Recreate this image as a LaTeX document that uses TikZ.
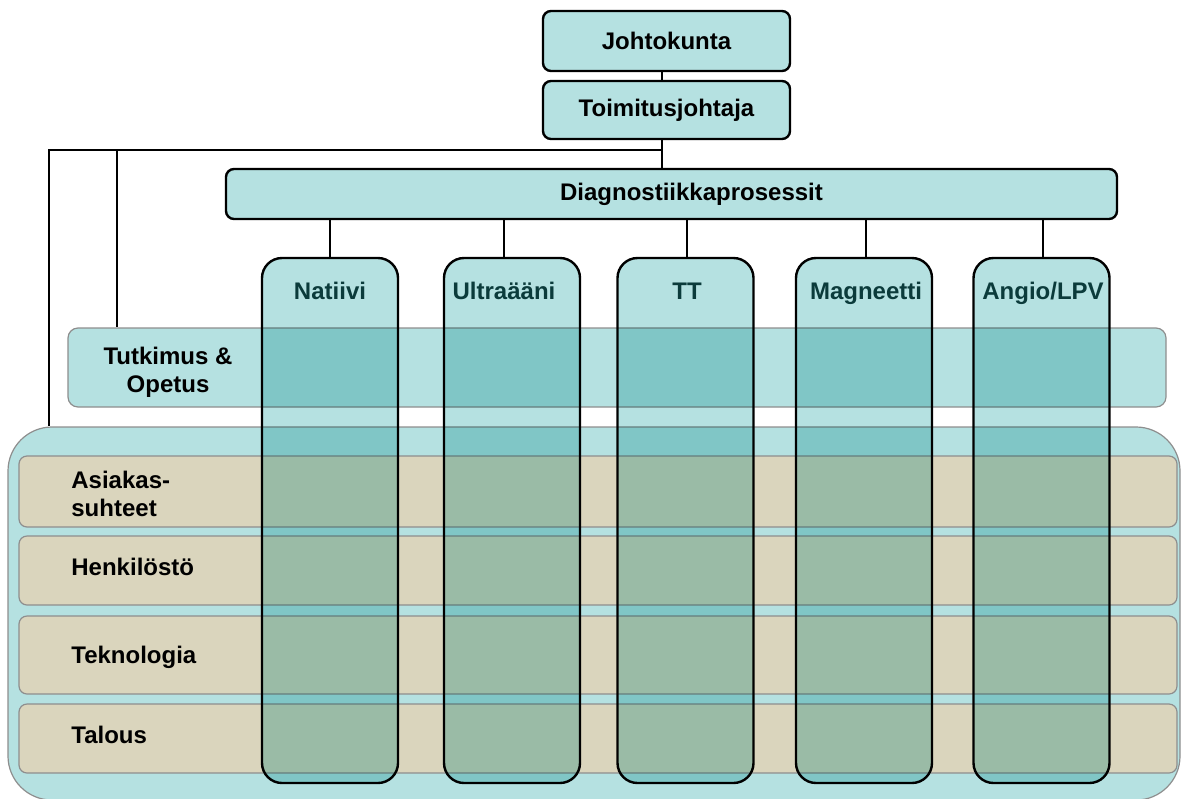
\documentclass[tikz,border=0pt]{standalone}
\usepackage{fontspec}
\setmainfont{Liberation Sans}
\usetikzlibrary{positioning}

\definecolor{tealbox}{HTML}{B5E1E1}
\definecolor{tanrow}{HTML}{DAD5BD}
\definecolor{rimgray}{HTML}{8E8E8E}
\definecolor{coltext}{HTML}{0B3B3B}

\tikzset{
  orgbox/.style={draw=black,line width=1.2pt,fill=tealbox,rounded corners=4pt,inner sep=0pt},
  colbox/.style={draw=black,line width=1.2pt,fill=tealbox,rounded corners=10pt,inner sep=0pt,
    minimum width=68pt,minimum height=262.5pt,blend mode=multiply},
  rowbox/.style={draw=rimgray,line width=0.6pt,fill=tanrow,rounded corners=4pt,inner sep=0pt,
    minimum width=579pt},
  lbl/.style={font=\fontsize{12}{14}\selectfont\bfseries,inner sep=0pt},
  rowlbl/.style={lbl,anchor=west,align=left},
  collbl/.style={lbl,text=coltext,anchor=base}
}

\begin{document}
\begin{tikzpicture}[x=0.5pt,y=-0.5pt]
\useasboundingbox (0,0) rectangle (1181,798);

% background layers
\node[draw=rimgray,line width=0.6pt,fill=tealbox,rounded corners=22pt,inner sep=0pt,
  minimum width=586pt,minimum height=186.5pt] (perus) at (594,613.5) {};
\node[rowbox,minimum height=35.5pt] (r1) at (598,491.5) {};
\node[rowbox,minimum height=34.5pt] (r2) at (598,570.5) {};
\node[rowbox,minimum height=39pt] (r3) at (598,655) {};
\node[rowbox,minimum height=34.5pt] (r4) at (598,738.5) {};
\node[rowlbl] (asiakas) at (71,494) {Asiakas-\\suhteet};
\node[rowlbl] (henk) at (71,567) {Henkilöstö};
\node[rowlbl] (tekno) at (71,657) {Teknologia};
\node[rowlbl] (talous) at (71,735) {Talous};

\node[draw=rimgray,line width=0.6pt,fill=tealbox,rounded corners=5pt,inner sep=0pt,
  minimum width=549pt,minimum height=39.5pt] (tutk) at (617,367.5) {};
\node[lbl,align=center] (tutktxt) at (168,372.5) {Tutkimus \&\\Opetus};

% management
\node[orgbox,minimum width=123.5pt,minimum height=30pt,lbl] (joht) at (666.5,41) {Johtokunta};
\node[orgbox,minimum width=123.5pt,minimum height=29pt,lbl] (toim) at (666.5,110) {Toimitusjohtaja};
\node[orgbox,minimum width=445.5pt,minimum height=25pt,lbl] (diag) at (671.5,194) {\hspace*{20pt}Diagnostiikkaprosessit};

\coordinate (hub) at (662,150);
\coordinate (lft) at (49,150);
\coordinate (mid) at (117,150);
\draw[line width=1.2pt] (joht.south -| hub) -- (toim.north -| hub);
\draw[line width=1.2pt] (toim.south -| hub) -- (diag.north -| hub);
\draw[line width=1.2pt] (hub) -- (lft) -- (lft |- perus.north);
\draw[line width=1.2pt] (mid) -- (mid |- tutk.north);

% process columns
\foreach \cx/\tx/\nm/\txt in {330/330/nat/{Natiivi},512/504/ult/{Ultraääni},685.5/687/tt/{TT},864/866/mag/{Magneetti},1041.5/1043/ang/{Angio/LPV}}{
  \node[colbox] (c\nm) at (\cx,520.5) {};
  \node[collbl] (t\nm) at (\tx,299) {\txt};
  \draw[line width=1.2pt] (diag.south -| t\nm) -- (c\nm.north -| t\nm);
}
\end{tikzpicture}
\end{document}
